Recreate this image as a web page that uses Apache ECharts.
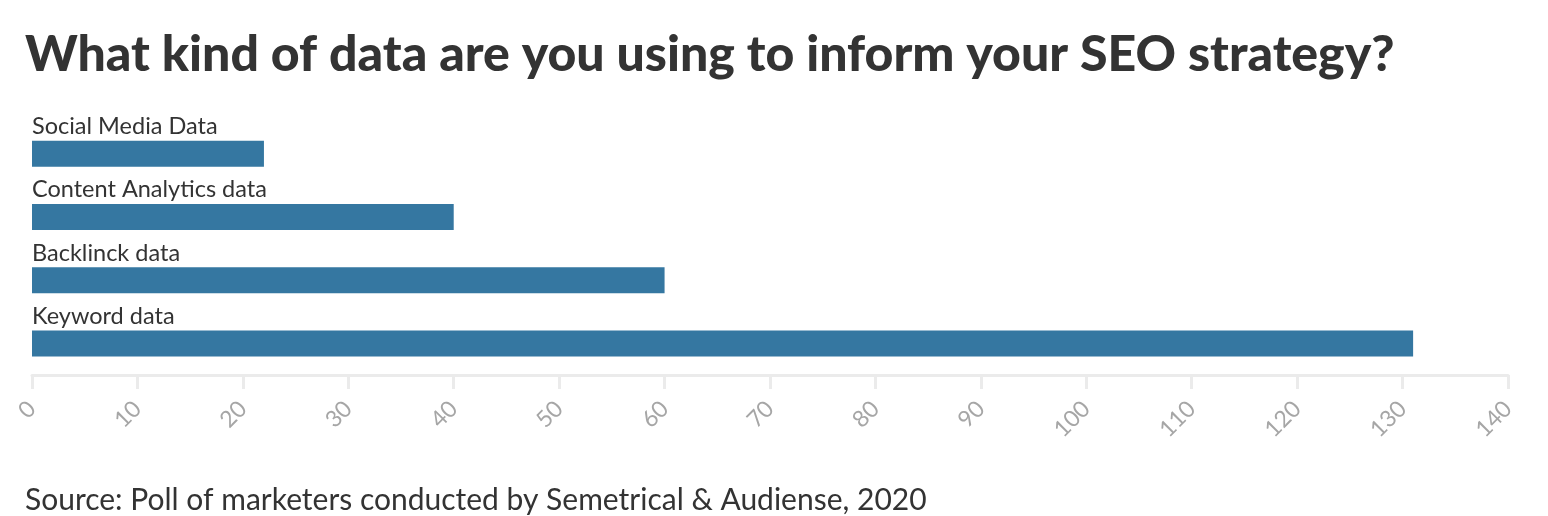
<!DOCTYPE html>
<html><head><meta charset="utf-8">
<script src="https://cdn.jsdelivr.net/npm/echarts@6/dist/echarts.min.js"></script>
<style>html,body{margin:0;padding:0;background:#fff}#c{width:1548px;height:516px}</style>
</head><body><div id="c"></div>
<script>
const categories = ["Social Media Data", "Content Analytics data", "Backlinck data", "Keyword data"];
const values = [22, 40, 60, 131];
const titleText = "What kind of data are you using to inform your SEO strategy?";
const sourceText = "Source: Poll of marketers conducted by Semetrical & Audiense, 2020";

const chart = echarts.init(document.getElementById('c'));
chart.setOption({
  animation: false,
  backgroundColor: '#fff',
  title: [
    {text: titleText, left: 20, top: 25, textStyle: {fontFamily: 'Lato', fontWeight: 900, fontSize: 50, color: '#333'}},
    {text: sourceText, left: 20, top: 480, textStyle: {fontFamily: 'Lato', fontWeight: 'normal', fontSize: 30, color: '#333'}}
  ],
  grid: {left: 32, right: 40, top: 122, height: 253, containLabel: false},
  xAxis: {
    type: 'value', min: 0, max: 140, interval: 10,
    axisLine: {show: true, lineStyle: {color: '#ebebeb', width: 3}},
    axisTick: {show: true, length: 14, lineStyle: {color: '#ebebeb', width: 3}},
    splitLine: {show: false},
    axisLabel: {rotate: 45, color: '#a6a6a6', fontSize: 23, fontFamily: 'Lato', margin: 30}
  },
  yAxis: {
    type: 'category', data: categories, inverse: true,
    axisLine: {show: false}, axisTick: {show: false}, axisLabel: {show: false}
  },
  series: [{
    type: 'bar', data: values, barWidth: 26,
    itemStyle: {color: '#3577a1'},
    label: {show: true, position: [0, -2], verticalAlign: 'bottom', align: 'left', formatter: '{b}',
      color: '#333', fontSize: 23.5, fontFamily: 'Lato'}
  }]
});
</script></body></html>
